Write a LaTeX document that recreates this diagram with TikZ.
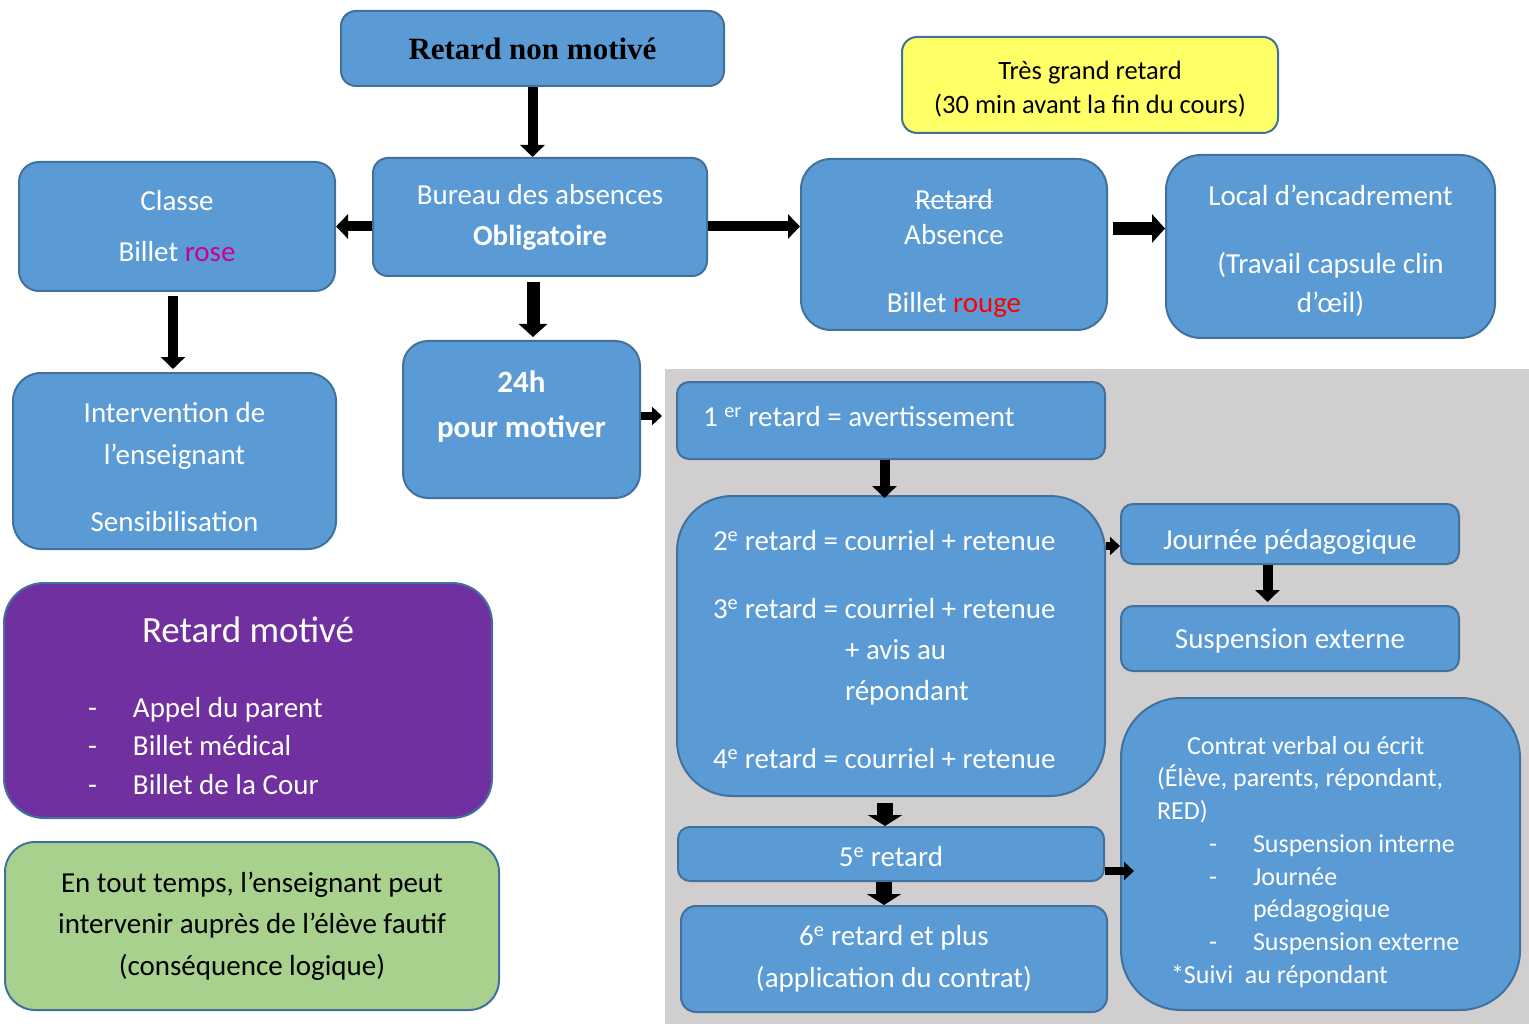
\documentclass[tikz,border=0pt]{standalone}
\usepackage{fontspec}
\setmainfont{Carlito}
\newfontfamily\titlefont{Liberation Serif}
\usetikzlibrary{arrows.meta, positioning}
\definecolor{boxblue}{HTML}{5B9BD5}
\definecolor{boxline}{HTML}{41719C}
\definecolor{motivepurple}{HTML}{7030A0}
\definecolor{notegreen}{HTML}{A9D18E}
\definecolor{noteyellow}{HTML}{FFFF66}
\definecolor{greybg}{HTML}{D0CECE}
\definecolor{rosepink}{HTML}{CC0099}
\newsavebox\strikebox
\newcommand\strikeword[1]{\sbox\strikebox{#1}\rlap{\rule[0.25em]{\wd\strikebox}{1.3pt}}\usebox\strikebox}
% invisible struts to lower or raise a text inside its box
\newcommand\topgap[1]{\rule{0pt}{#1}}
\newcommand\lowgap[1]{\rule[-#1]{0pt}{#1}}
\tikzstyle{bluebox} = [rectangle, rounded corners=15pt, draw=boxline, line width=2pt, fill=boxblue, text=white, align=center]
\tikzstyle{note} = [rectangle, rounded corners=30pt, draw=boxline, line width=2pt, text=black, align=center]
\tikzstyle{arrow} = [line width=10pt, -{Triangle[width=24pt,length=12pt]}]
\tikzstyle{thickarrow} = [line width=13pt, -{Triangle[width=28pt,length=13pt]}]
\tikzstyle{smallarrow} = [line width=8pt, -{Triangle[width=18pt,length=10pt]}]
\tikzstyle{widearrow} = [line width=16pt, -{Triangle[width=34pt,length=11pt]}]

\begin{document}
\begin{tikzpicture}[x=1pt, y=-1pt, every node/.style={font=\fontsize{29}{35}\selectfont}]
\useasboundingbox (0,0) rectangle (1529,1024);
% grey zone behind the retard count
\fill[greybg] (665,369) rectangle (1529,1024);

\node (nonmotive) [bluebox, minimum width=383pt, minimum height=75pt, text=black, font=\titlefont\bfseries\fontsize{31}{36}\selectfont] at (532.5,48.5) {Retard non motivé};
\node (bureau) [bluebox, minimum width=334pt, minimum height=118pt] at (540,217) {Bureau des absences\\[6pt]\textbf{Obligatoire}};
\node (classe) [bluebox, rounded corners=20pt, minimum width=316pt, minimum height=129pt] at (177,226.5) {Classe\\[16pt]Billet \textcolor{rosepink}{rose}};
\node (intervention) [bluebox, rounded corners=28pt, minimum width=323pt, minimum height=176pt] at (174.5,461) {\topgap{32pt}Intervention de\\[7pt]l’enseignant\\[32pt]Sensibilisation};
\node (h24) [bluebox, rounded corners=25pt, minimum width=237pt, minimum height=157pt, font=\bfseries\fontsize{31}{35}\selectfont] at (521.5,419.5) {24h\\[10pt]pour motiver\\[-5pt]~};
\node (absence) [bluebox, rounded corners=30pt, minimum width=306pt, minimum height=171pt] at (954,244.5) {\topgap{38pt}\strikeword{Retard}\\Absence\\[33pt]Billet \textcolor{red}{rouge}};
\node (local) [bluebox, rounded corners=35pt, minimum width=329pt, minimum height=183pt] at (1330.5,246.5) {\topgap{30pt}Local d’encadrement\\[33pt](Travail capsule clin\\[4pt]d’œil)};
\node (tresgrand) [note, rounded corners=15pt, fill=noteyellow, minimum width=376pt, minimum height=96pt, font=\fontsize{26.5}{34}\selectfont] at (1090,85) {\topgap{26pt}Très grand retard\\(30 min avant la fin du cours)};

\node (r1) [bluebox, rounded corners=12pt, minimum width=428pt, minimum height=77pt, text width=376pt, align=flush left] at (891,420.5) {1 \textsuperscript{er} retard = avertissement\lowgap{8pt}};
\node (r234) [bluebox, rounded corners=55pt, minimum width=428pt, minimum height=300pt, text width=380pt, align=flush left, below=35pt of r1] {\hspace*{12pt}\topgap{28pt}2\textsuperscript{e} retard = courriel + retenue\\[33pt]
\hspace*{12pt}3\textsuperscript{e} retard = courriel + retenue\\[6pt]
\hspace*{144pt}+ avis au\\[6pt]
\hspace*{144pt}répondant\\[33pt]
\hspace*{12pt}4\textsuperscript{e} retard = courriel + retenue};
\node (r5) [bluebox, rounded corners=12pt, minimum width=426pt, minimum height=54pt, below=29pt of r234] {\topgap{26pt}5\textsuperscript{e} retard};
\node (r6) [bluebox, rounded corners=15pt, minimum width=426pt, minimum height=106pt, below=23pt of r5, xshift=3pt] {6\textsuperscript{e} retard et plus\\[7pt](application du contrat)};
\node (journee) [bluebox, rounded corners=12pt, minimum width=338pt, minimum height=60pt] at (1290,534) {\topgap{36pt}Journée pédagogique};
\node (suspext) [bluebox, rounded corners=12pt, minimum width=338pt, minimum height=65pt, below=40pt of journee] {\topgap{25pt}Suspension externe};
\node (contrat) [bluebox, rounded corners=60pt, minimum width=399pt, minimum height=312pt, text width=327pt, align=flush left, font=\fontsize{26}{32.7}\selectfont] at (1320.5,854) {\hspace*{30pt}\topgap{33.5pt}Contrat verbal ou écrit\\
(Élève, parents, répondant,\\
RED)\\
\hspace*{52pt}\makebox[44pt][l]{-}Suspension interne\\
\hspace*{52pt}\makebox[44pt][l]{-}Journée\\
\hspace*{96pt}pédagogique\\
\hspace*{52pt}\makebox[44pt][l]{-}Suspension externe\\
\hspace*{14pt}*Suivi\ \ au répondant};

\node (motive) [note, rounded corners=40pt, fill=motivepurple, text=white, minimum width=488pt, minimum height=235pt] at (248,700.5) {{\fontsize{37}{40}\selectfont\topgap{36pt}Retard motivé}\\[40pt]
\makebox[320pt][l]{\makebox[45pt][l]{-}Appel du parent}\\[3.5pt]
\makebox[320pt][l]{\makebox[45pt][l]{-}Billet médical}\\[3.5pt]
\makebox[320pt][l]{\makebox[45pt][l]{-}Billet de la Cour}};
\node (tout) [note, fill=notegreen, minimum width=494pt, minimum height=168pt] at (252,926) {En tout temps, l’enseignant peut\\[6pt]intervenir auprès de l’élève fautif\\[7pt](conséquence logique)};

\draw [arrow] (nonmotive.south) -- (nonmotive.south |- bureau.north);
\draw [arrow] (bureau.west |- classe.east) -- (classe.east);
\draw [arrow] (bureau.east |- classe.east) -- (absence.west |- classe.east);
\draw [thickarrow, shorten <=5pt, shorten >=3pt] ([xshift=-7pt]bureau.south) -- ([xshift=-7pt]bureau.south |- h24.north);
\draw [arrow, shorten <=4pt, shorten >=3pt] ([xshift=-4pt]classe.south) -- ([xshift=-4pt]classe.south |- intervention.north);
\draw [thickarrow, shorten <=5pt] ([yshift=16pt]absence.east) -- ([yshift=16pt]absence.east -| local.west);
\draw [smallarrow, shorten >=14pt] ([yshift=3.5pt]h24.east) -- ([yshift=3.5pt]h24.east -| r1.west);
\draw [arrow, shorten >=-3pt] ([xshift=-6.5pt]r1.south) -- ([xshift=-6.5pt]r1.south |- r234.north);
\draw [smallarrow] ([yshift=-12pt]journee.west -| r234.east) -- ([yshift=-12pt]journee.west);
\draw [arrow, shorten >=3pt] ([xshift=-22.5pt]journee.south) -- ([xshift=-22.5pt]journee.south |- suspext.north);
\draw [widearrow, shorten <=6pt] ([xshift=-6pt]r234.south) -- ([xshift=-6pt]r234.south |- r5.north);
\draw [widearrow] ([xshift=-7pt]r5.south) -- ([xshift=-7pt]r5.south |- r6.north);
\draw [smallarrow, shorten >=-14pt] ([yshift=-17pt]r5.east) -- ([yshift=-17pt]r5.east -| contrat.west);
\end{tikzpicture}
\end{document}
